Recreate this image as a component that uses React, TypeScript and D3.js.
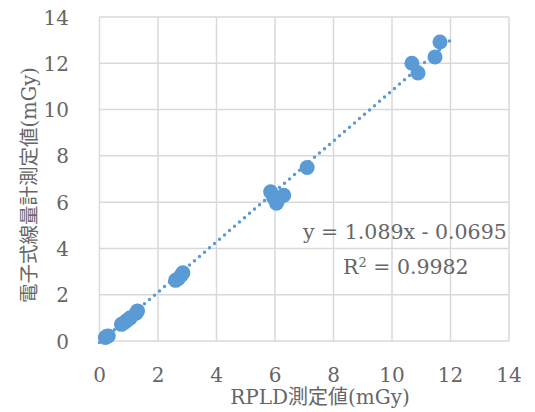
import React from "react";
import * as d3 from "d3";

const xValues = [0.2, 0.25, 0.3, 0.75, 0.85, 0.95, 1.05, 1.25, 1.3, 2.6, 2.7, 2.8, 2.85, 5.85, 5.95, 6.05, 6.1, 6.3, 7.1, 10.68, 10.89, 11.47, 11.64];
const yValues = [0.15, 0.2, 0.22, 0.72, 0.8, 0.9, 1.0, 1.2, 1.3, 2.62, 2.7, 2.85, 2.95, 6.45, 6.2, 5.95, 6.1, 6.3, 7.5, 12.0, 11.58, 12.27, 12.92];
const xTicks = [0, 2, 4, 6, 8, 10, 12, 14];
const yTicks = [0, 2, 4, 6, 8, 10, 12, 14];
const slope = 1.089;
const intercept = -0.0695;
const trendRange = [0, 12];
const equationText = "y = 1.089x - 0.0695";
const r2Text = "0.9982";
const xTitle = "RPLD測定値(mGy)";
const yTitle = "電子式線量計測定値(mGy)";

const W = 535;
const H = 412;
const plot = { left: 99.5, right: 509, top: 17, bottom: 341 };
const color = "#5b9bd5";
const textColor = "#666666";
const grid = "#d9d9d9";
const font = "DejaVu Serif, Noto Sans CJK JP, serif";

export default function App() {
  const x = d3.scaleLinear().domain([0, 14]).range([plot.left, plot.right]);
  const y = d3.scaleLinear().domain([0, 14]).range([plot.bottom, plot.top]);
  const line = d3
    .line<number>()
    .x((d) => x(d))
    .y((d) => y(slope * d + intercept));
  const pts = xValues.map((v, i) => [v, yValues[i]]);
  return (
    <svg
      width={W}
      height={H}
      style={{ position: "absolute", left: 0, top: 0, background: "#fff", fontFamily: font }}
    >
      {xTicks.map((t) => (
        <line key={"gx" + t} x1={x(t)} x2={x(t)} y1={plot.top} y2={plot.bottom} stroke={grid} strokeWidth={1.5} />
      ))}
      {yTicks.map((t) => (
        <line key={"gy" + t} x1={plot.left} x2={plot.right} y1={y(t)} y2={y(t)} stroke={grid} strokeWidth={1.5} />
      ))}
      {xTicks.map((t) => (
        <text key={"tx" + t} x={x(t)} y={382} textAnchor="middle" fontSize={20} fill={textColor}>
          {t}
        </text>
      ))}
      {yTicks.map((t) => (
        <text key={"ty" + t} x={69} y={y(t) + 7.5} textAnchor="end" fontSize={20} fill={textColor}>
          {t}
        </text>
      ))}
      {pts.map(([a, b], i) => (
        <circle key={"p" + i} cx={x(a)} cy={y(b)} r={7.5} fill={color} />
      ))}
      <path
        d={line(trendRange) || ""}
        fill="none"
        stroke={color}
        strokeWidth={3.5}
        strokeLinecap="round"
        strokeDasharray="0 6.6"
      />
      <text x={303} y={239} fontSize={20.5} fill={textColor}>
        {equationText}
      </text>
      <text x={343} y={274} fontSize={20.5} fill={textColor}>
        R<tspan dy={-7} fontSize={13}>2</tspan>
        <tspan dy={7}> = {r2Text}</tspan>
      </text>
      <text x={320} y={404} textAnchor="middle" fontSize={20} fill={textColor}>
        {xTitle}
      </text>
      <text
        transform={`translate(36, 185) rotate(-90)`}
        textAnchor="middle"
        fontSize={19.5}
        fill={textColor}
      >
        {yTitle}
      </text>
    </svg>
  );
}
